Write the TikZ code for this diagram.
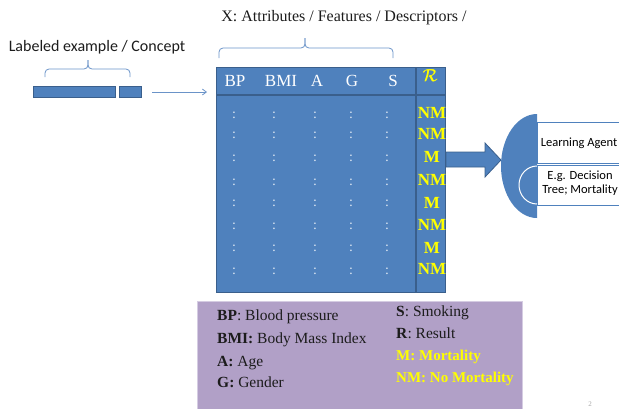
\documentclass[tikz,border=0pt]{standalone}
\usepackage{fontspec}
\setmainfont{Liberation Serif}
\newfontfamily\calib{Carlito}
\usetikzlibrary{arrows.meta}
\definecolor{bluef}{HTML}{4F81BD}
\definecolor{blued}{HTML}{3A5F8C}
\definecolor{legendf}{HTML}{B1A0C7}
\definecolor{legendb}{HTML}{D5CCE2}
\definecolor{ylw}{HTML}{FFFF00}
\definecolor{txt}{HTML}{1C1C1C}
\definecolor{brc}{HTML}{6A93C8}
\begin{document}
\begin{tikzpicture}[x=1pt,y=-1pt,
  hdr/.style={text=white, font=\fontsize{17}{17}\selectfont, inner sep=0pt},
  colon/.style={text=white!85!bluef, font=\fontsize{14}{14}\selectfont, inner sep=0pt},
  res/.style={text=ylw, font=\bfseries\fontsize{17}{17}\selectfont, inner sep=0pt},
  leg/.style={anchor=base west, text=txt, font=\fontsize{15.5}{15.5}\selectfont, inner sep=0pt},
  legy/.style={anchor=base west, text=ylw, font=\bfseries\fontsize{15}{15}\selectfont, inner sep=0pt},
  brace/.style={draw=brc, line width=0.8pt, rounded corners=4pt},
  barbox/.style={draw=blued, fill=bluef, line width=0.8pt, inner sep=0pt, minimum height=11pt, anchor=north west},
  agent/.style={font=\calib\fontsize{12.5}{14}\selectfont, text=black, inner sep=0pt, align=center},
  scriptr/.style={text=ylw, inner sep=0pt, font=\fontsize{16}{16}\selectfont}
]
\useasboundingbox (0,0) rectangle (619,408);

% left label and brace
\node[font=\calib\fontsize{16}{16}\selectfont, text=txt, inner sep=0pt] (lbl) at (97,47) {Labeled example / Concept};
\draw[brace] (45,77) -- (45,69) -- (88,69) -- (88,60);
\draw[brace] (130,77) -- (130,69) -- (88,69) -- (88,60);

% bars
\node[barbox, minimum width=82pt] (bar1) at (33,86) {};
\node[barbox, minimum width=22pt] (bar2) at (119,86) {};

% thin arrow
\coordinate (arrS) at (152,92);
\coordinate (arrE) at (207,92);
\draw[draw=brc, line width=0.8pt, -{Straight Barb[length=4pt,width=6pt]}] (arrS) -- (arrE);

% top label and brace
\node[font=\fontsize{16}{16}\selectfont, text=txt, inner sep=0pt] (xlbl) at (344,18) {X: Attributes / Features / Descriptors /};
\draw[brace] (219,58) -- (219,48) -- (305,48) -- (305,38);
\draw[brace] (393,58) -- (393,48) -- (305,48) -- (305,38);

% table
\node[draw=blued, fill=bluef, line width=1.3pt, minimum width=229pt, minimum height=225pt, anchor=north west, inner sep=0pt] (tbl) at (216,67) {};
\draw[blued, line width=1.3pt] (216,95) -- (445,95);
\draw[blued, line width=1.3pt] (416,67) -- (416,292);

\node[hdr] (hBP) at (235,81) {BP};
\node[hdr] (hBMI) at (281,81) {BMI};
\node[hdr] (hA) at (317,81) {A};
\node[hdr] (hG) at (352,81) {G};
\node[hdr] (hS) at (393,81) {S};
\node[scriptr] (hR) at (430,76) {$\mathcal{R}$};
\node[scriptr] (hR2) at (430.5,76) {$\mathcal{R}$};

\foreach \y [count=\i] in {115,135,158,182,203,226,248,271}{
  \foreach \x [count=\j] in {234,274,315,351,387}{
    \node[colon] (c\i-\j) at (\x,\y) {:};
  }
}
\foreach \y/\v [count=\i] in {113/NM,134/NM,157/M,180/NM,203/M,225/NM,248/M,269/NM}{
  \node[res] (r\i) at (432,\y) {\v};
}

% block arrow
\fill[bluef, draw=blued, line width=0.8pt] (446,152) -- (485,152) -- (485,143) -- (501,160) -- (485,177) -- (485,167) -- (446,167) -- cycle;

% learning agent shape
\fill[bluef] (537,114) arc[start angle=270, end angle=90, x radius=36, y radius=52] -- cycle;
\node[draw=bluef, fill=white, line width=1.2pt, anchor=north west, minimum width=90pt, minimum height=41pt, inner sep=0pt] (box1) at (537,122) {};
\node[draw=bluef, fill=white, line width=1.2pt, anchor=north west, minimum width=90pt, minimum height=40pt, inner sep=0pt] (box2) at (537,165) {};
\draw[white, line width=1pt] (537,166) arc[start angle=270, end angle=90, x radius=18, y radius=19];
\node[agent] (la) at (579,143) {Learning Agent};
\node[agent] (eg) at (580,183) {E.g. Decision\\Tree; Mortality};

% legend
\node[draw=legendb, fill=legendf, line width=0.8pt, anchor=north west, minimum width=325pt, minimum height=112pt, inner sep=0pt] (legend) at (197,301) {};
\node[leg] (l1) at (217,320) {\textbf{BP}: Blood pressure};
\node[leg] (l2) at (217,343) {\textbf{BMI:} Body Mass Index};
\node[leg] (l3) at (217,366) {\textbf{A:} Age};
\node[leg] (l4) at (217,387) {\textbf{G:} Gender};
\node[leg] (l5) at (396,316) {\textbf{S}: Smoking};
\node[leg] (l6) at (396,338) {\textbf{R}: Result};
\node[legy] (l7) at (396,360) {M: Mortality};
\node[legy] (l8) at (396,382) {NM: No Mortality};

% page number
\node[text=gray!70, font=\fontsize{7}{7}\selectfont, inner sep=0pt] (pg) at (590,404) {2};
\end{tikzpicture}
\end{document}
